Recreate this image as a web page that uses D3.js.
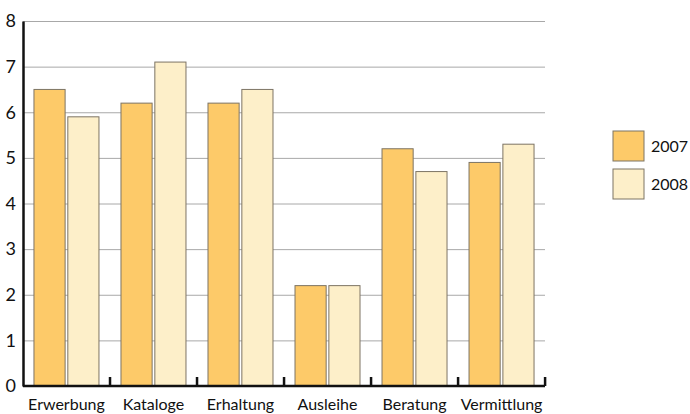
<!DOCTYPE html>
<html>
<head>
<meta charset="utf-8">
<script src="https://cdn.jsdelivr.net/npm/d3@7"></script>
<style>
body { margin: 0; background: #fff; }
svg text { font-family: Lato, "Open Sans", sans-serif; fill: #111; }
</style>
</head>
<body>
<div class="canvas"></div>
<script>
var categories = ["Erwerbung", "Kataloge", "Erhaltung", "Ausleihe", "Beratung", "Vermittlung"];
var years = ["2007", "2008"];
var values2007 = [6.5, 6.2, 6.2, 2.2, 5.2, 4.9];
var values2008 = [5.9, 7.1, 6.5, 2.2, 4.7, 5.3];
var yTicks = [0, 1, 2, 3, 4, 5, 6, 7, 8];
var colors = ["#fdca69", "#fdefc9"];

var seriesValues = [values2007, values2008];

var svg = d3.select(".canvas")
	.append("svg")
	.attr("width", 690)
	.attr("height", 414);

var plotLeft = 23, plotRight = 545, plotTop = 21, plotBottom = 386;

var x0 = d3.scaleBand()
	.domain(categories)
	.range([plotLeft, plotRight])
	.paddingInner(0.253)
	.paddingOuter(0.126);

var x1 = d3.scaleBand()
	.domain(years)
	.range([0, x0.bandwidth()])
	.paddingInner(0.08);

var y = d3.scaleLinear()
	.domain([0, 8])
	.range([plotBottom, plotTop]);

// gridlines
svg.append("g")
	.selectAll("line")
	.data(yTicks.filter(function(d){ return d > 0; }))
	.enter().append("line")
	.attr("x1", plotLeft)
	.attr("x2", plotRight)
	.attr("y1", function(d){ return y(d) + 0.5; })
	.attr("y2", function(d){ return y(d) + 0.5; })
	.attr("stroke", "#a8a8a8")
	.attr("stroke-width", 1);

// bars
var groups = svg.append("g")
	.selectAll("g")
	.data(categories)
	.enter().append("g")
	.attr("transform", function(d){ return "translate(" + x0(d) + ",0)"; });

groups.selectAll("rect")
	.data(function(d, i){ return years.map(function(yr, j){ return {year: yr, value: seriesValues[j][i], j: j}; }); })
	.enter().append("rect")
	.attr("x", function(d){ return x1(d.year); })
	.attr("y", function(d){ return y(d.value); })
	.attr("width", x1.bandwidth())
	.attr("height", function(d){ return y(0) - y(d.value); })
	.attr("fill", function(d){ return colors[d.j]; })
	.attr("stroke", "#7d7464")
	.attr("stroke-width", 1);

// y axis
var yAxis = d3.axisLeft(y).tickValues(yTicks).tickSize(0).tickPadding(7);
var yg = svg.append("g")
	.attr("transform", "translate(" + plotLeft + ",0)")
	.call(yAxis);
yg.select(".domain").attr("stroke", "#111").attr("stroke-width", 2.5);
yg.selectAll("text").attr("font-size", "18px");

// x axis
var xAxis = d3.axisBottom(x0).tickSize(0).tickPadding(10);
var xg = svg.append("g")
	.attr("transform", "translate(0," + plotBottom + ")")
	.call(xAxis);
xg.select(".domain").attr("stroke", "#111").attr("stroke-width", 2.5).attr("d", "M" + plotLeft + ",0H" + plotRight);
xg.selectAll("text").attr("font-size", "16px").attr("dy", "0.85em");

// small ticks at group boundaries
var step = x0.step();
var boundaries = categories.map(function(d){ return x0(d) - x0.paddingOuter() * step + step; });
svg.append("g")
	.selectAll("line")
	.data(boundaries)
	.enter().append("line")
	.attr("x1", function(d){ return d; })
	.attr("x2", function(d){ return d; })
	.attr("y1", plotBottom)
	.attr("y2", plotBottom - 9)
	.attr("stroke", "#111")
	.attr("stroke-width", 2.5);

// legend
var legend = svg.append("g")
	.selectAll("g")
	.data(years)
	.enter().append("g")
	.attr("transform", function(d, i){ return "translate(613," + (131 + i * 38) + ")"; });

legend.append("rect")
	.attr("width", 31)
	.attr("height", 30)
	.attr("fill", function(d, i){ return colors[i]; })
	.attr("stroke", "#7d7464");

legend.append("text")
	.attr("x", 38)
	.attr("y", 15)
	.attr("dy", "0.35em")
	.attr("font-size", "16px")
	.text(function(d){ return d; });
</script>
</body>
</html>
